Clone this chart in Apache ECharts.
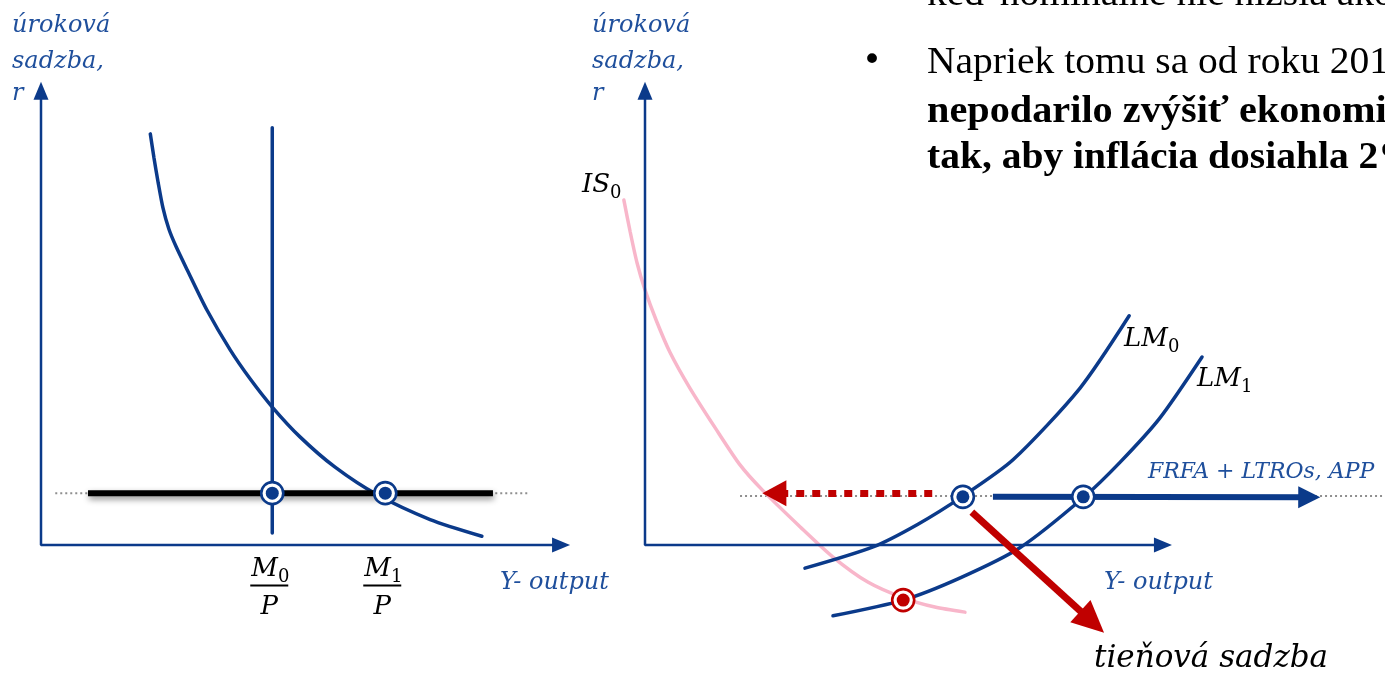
<!DOCTYPE html>
<html><head><meta charset="utf-8">
<script src="https://cdn.jsdelivr.net/npm/echarts@6/dist/echarts.min.js"></script>
<style>html,body{margin:0;padding:0;background:#fff}#c{width:1385px;height:675px}</style>
</head><body><div id="c"></div>
<script>
// ===== DATA (diagram units: x = output / real balances, y = interest rate r) =====
// Left panel: money market
const mdX = [2.07, 2.14, 2.22, 2.31, 2.42, 2.56, 2.77, 3.14, 3.58, 3.96, 4.38, 4.91, 5.57, 6.36, 7.37, 8.35];
const mdY = [8.88, 8.36, 7.82, 7.28, 6.83, 6.44, 5.94, 5.08, 4.22, 3.59, 2.98, 2.33, 1.68, 1.09, 0.55, 0.19];
const msM0 = 4.38;                 // M0/P
const msM1 = 6.52;                 // M1/P
const msSpan = [0.26, 9.01];       // vertical extent of money supply line
const zlbL = 1.12;                 // floor of the interest rate (left)
const zlbBarX = [0.89, 8.56];      // thick black floor line
const zlbDotL = [0.27, 9.26];      // grey dotted line (left)
const axisEndL = [9.85, 9.81];
const tickLabelsL = [['M', '0', 'P'], ['M', '1', 'P']];

// Right panel: IS-LM
const isX = [-0.40, -0.28, -0.15, 0.00, 0.21, 0.47, 0.85, 1.33, 1.80, 2.22, 2.94, 3.56, 4.22, 4.89, 5.49, 6.06];
const isY = [7.45, 6.76, 6.09, 5.51, 4.86, 4.17, 3.39, 2.53, 1.73, 1.19, 0.39, -0.26, -0.80, -1.14, -1.34, -1.45];
const lm0X = [3.03, 4.32, 5.17, 6.00, 6.97, 8.24, 9.17];
const lm0Y = [-0.50, -0.04, 0.45, 1.04, 1.84, 3.39, 4.95];
const lm1X = [3.56, 4.89, 5.97, 7.10, 8.30, 9.00, 9.75, 10.55];
const lm1Y = [-1.53, -1.19, -0.71, -0.06, 1.02, 1.79, 2.74, 4.06];
const zlbDotR = [1.80, 14.0];
const zlbDotRY = 1.06;
const eqPoints = [[6.02, 1.04], [8.30, 1.04]];
const shadowPoint = [4.89, -1.19];
const cutArrow = [[5.44, 1.12], [2.45, 1.12]];
const qeArrow = [[6.59, 1.04], [12.58, 1.03]];
const shadowArrow = [[6.19, 0.71], [8.47, -1.66]];
const axisEndR = [9.81, 9.81];

// ===== STYLE =====
const BLUE = '#0b3a8a', TXT = '#1f4f9c', RED = '#c00000', PINK = '#f8b6ca', GREY = '#8f8f8f';
const SERIF = "'DejaVu Serif', serif";
const BODY = "'Liberation Serif', serif";
const W = 52.8, H = 46.3;   // px per unit

const pts = (xs, ys) => xs.map((x, i) => [x, ys[i]]);
const chart = echarts.init(document.getElementById('c'), null, {renderer: 'canvas'});

function axesSeries(g, end) {
  return {
    type: 'line', xAxisIndex: g, yAxisIndex: g, silent: true, z: 3,
    data: [
      {value: [end[0], 0], symbol: 'triangle', symbolSize: [15, 18], symbolRotate: -90},
      {value: [0, 0], symbol: 'none'},
      {value: [0, end[1]], symbol: 'triangle', symbolSize: [15, 18], symbolRotate: 0}
    ],
    showSymbol: true, showAllSymbol: true,
    itemStyle: {color: BLUE, opacity: 1}, lineStyle: {color: BLUE, width: 2.5}, clip: false
  };
}
function curve(g, data, color, width, z, extra) {
  return Object.assign({
    type: 'line', xAxisIndex: g, yAxisIndex: g, data, smooth: 0.25,
    symbol: 'none', silent: true, clip: false, z: z || 2,
    lineStyle: {color, width, cap: 'round'}
  }, extra || {});
}
function arrow(g, seg, color, width, dash, size, z) {
  return {
    type: 'line', xAxisIndex: g, yAxisIndex: g, data: [], silent: true, z: z || 4,
    markLine: {
      silent: true, animation: false, label: {show: false}, symbol: ['none', 'triangle'],
      lineStyle: {color, width, type: dash || 'solid', cap: 'butt', opacity: 1},
      itemStyle: {color, opacity: 1},
      emphasis: {disabled: true},
      data: [[{coord: seg[0], symbol: 'none'}, {coord: seg[1], symbol: 'triangle', symbolSize: size}]]
    }
  };
}
function rings(g, data, color, z) {
  return [
    {type: 'scatter', xAxisIndex: g, yAxisIndex: g, data, symbolSize: 22, silent: true, z: z,
     itemStyle: {color: '#fff', borderColor: color, borderWidth: 2.6, opacity: 1}},
    {type: 'scatter', xAxisIndex: g, yAxisIndex: g, data, symbolSize: 13, silent: true, z: z + 1,
     itemStyle: {color, opacity: 1}}
  ];
}

const option = {
  animation: false,
  backgroundColor: '#fff',
  grid: [
    {left: 41 - 0.5 * W, top: 545 - 10.5 * H, width: 11 * W, height: 11 * H, outerBoundsMode: 'none', containLabel: false},
    {left: 645 - 2 * W, top: 545 - 10.5 * H, width: 16 * W, height: 13 * H, outerBoundsMode: 'none', containLabel: false}
  ],
  xAxis: [
    {gridIndex: 0, type: 'value', min: -0.5, max: 10.5, show: false},
    {gridIndex: 1, type: 'value', min: -2, max: 14, show: false}
  ],
  yAxis: [
    {gridIndex: 0, type: 'value', min: -0.5, max: 10.5, show: false},
    {gridIndex: 1, type: 'value', min: -2.5, max: 10.5, show: false}
  ],
  series: [
    // left panel
    curve(0, [[zlbDotL[0], zlbL], [zlbDotL[1], zlbL]], GREY, 2, 1, {smooth: false, lineStyle: {color: GREY, width: 2, type: [2, 3]}}),
    axesSeries(0, axisEndL),
    curve(0, [[msM0, msSpan[0]], [msM0, msSpan[1]]], BLUE, 3.5, 2, {smooth: false}),
    curve(0, pts(mdX, mdY), BLUE, 3.5, 2),
    curve(0, [[zlbBarX[0], zlbL], [zlbBarX[1], zlbL]], '#000', 6, 3, {smooth: false,
      lineStyle: {color: '#000', width: 6, cap: 'butt', shadowColor: 'rgba(0,0,0,0.45)', shadowBlur: 6, shadowOffsetX: 1, shadowOffsetY: 3}}),
    ...rings(0, [[msM0, zlbL], [msM1, zlbL]], BLUE, 6),
    // right panel
    curve(1, [[zlbDotR[0], zlbDotRY], [zlbDotR[1], zlbDotRY]], GREY, 2, 1, {smooth: false, lineStyle: {color: GREY, width: 2, type: [2, 3]}}),
    axesSeries(1, axisEndR),
    curve(1, pts(isX, isY), PINK, 3.5, 2),
    curve(1, pts(lm0X, lm0Y), BLUE, 3.5, 2),
    curve(1, pts(lm1X, lm1Y), BLUE, 3.5, 2),
    arrow(1, cutArrow, RED, 7, [8, 8], [26, 24], 4),
    arrow(1, qeArrow, BLUE, 6, 'solid', [22, 22], 4),
    arrow(1, shadowArrow, RED, 7, 'solid', [30, 32], 5),
    ...rings(1, eqPoints, BLUE, 6),
    ...rings(1, [shadowPoint], RED, 6)
  ]
};
chart.setOption(option);

// ===== TEXT =====
function txt(x, y, text, o, extra) {
  return Object.assign({type: 'text', x, y, z: 20, silent: true, style: Object.assign({
    text, fill: TXT, fontFamily: SERIF, fontStyle: 'italic', fontSize: 24, align: 'left', verticalAlign: 'middle'
  }, o || {})}, extra || {});
}
function sub(x, y, main, s, o) {
  return {type: 'text', x, y, z: 20, silent: true, style: Object.assign({
    text: '{a|' + main + '}{b|' + s + '}', align: 'left', verticalAlign: 'top', fill: '#000',
    rich: {
      a: {fontFamily: SERIF, fontStyle: 'italic', fontSize: 26, lineHeight: 30, verticalAlign: 'top', fill: '#000'},
      b: {fontFamily: SERIF, fontSize: 18, lineHeight: 17, verticalAlign: 'bottom', fill: '#000'}
    }
  }, o || {})};
}
const g = [];
[[12], [592]].forEach(([x]) => {
  g.push(txt(x, 26, 'úroková'), txt(x, 62, 'sadzba,'), txt(x, 94, 'r'));
});
g.push(txt(500, 583, 'Y- output'), txt(1104, 583, 'Y- output'));
g.push(txt(1148, 472, 'FRFA + LTROs, APP', {fontSize: 22}));
g.push(txt(1094, 659, 'tieňová sadzba', {fontSize: 31, fill: '#000'}));
g.push(sub(582, 172, 'IS', '0'), sub(1124, 326, 'LM', '0'), sub(1197, 366, 'LM', '1'));
// fractions under the left axis
[msM0, msM1].forEach((v, i) => {
  const px = chart.convertToPixel({gridIndex: 0}, [v, 0])[0] - 3;
  const lab = tickLabelsL[i];
  g.push(sub(px - 18, 556, lab[0], lab[1]));
  g.push({type: 'line', z: 20, silent: true, shape: {x1: px - 19, y1: 585.5, x2: px + 19, y2: 585.5}, style: {stroke: '#000', lineWidth: 2.2}});
  g.push(txt(px, 607, lab[2], {fill: '#000', fontSize: 26, align: 'center'}));
});
// bullet text (top right)
const body = {fontFamily: BODY, fontStyle: 'normal', fontSize: 38, fill: '#000'};
const bold = Object.assign({}, body, {fontWeight: 'bold'});
g.push(txt(927, -5, 'keď nominálne nie nižšia ako', body, {scaleX: 1.04}));
g.push(txt(862, 62, '•', {fontFamily: "'DejaVu Sans', sans-serif", fontStyle: 'normal', fontSize: 34, fill: '#000'}));
g.push(txt(927, 63, 'Napriek tomu sa od roku 2014', body, {scaleX: 1.04}));
g.push(txt(927, 112, 'nepodarilo zvýšiť ekonomickú', bold, {scaleX: 1.06}));
g.push(txt(927, 158, 'tak, aby inflácia dosiahla 2%', bold, {scaleX: 1.04}));
chart.setOption({graphic: g});
</script></body></html>
